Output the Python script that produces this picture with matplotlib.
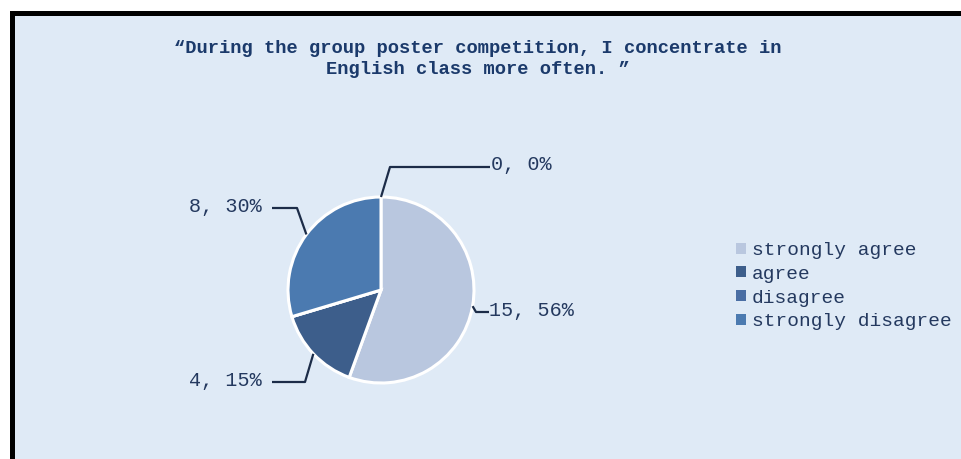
import numpy as np
import matplotlib
matplotlib.use("Agg")
import matplotlib.pyplot as plt
from matplotlib.patches import Rectangle, Patch

categories = ["strongly agree", "agree", "disagree", "strongly disagree"]
counts = [15, 4, 0, 8]
percents = [56, 15, 0, 30]
colors = ["#b9c7df", "#3d5e8b", "#4a6ea4", "#4b7ab0"]
title = "\u201cDuring the group poster competition, I concentrate in\nEnglish class more often. \u201d"

W, H = 962, 459
BG = "#dfeaf6"
TXT = "#24395f"
LINE = "#1c2c48"


def py(y):
    # pixel row (from top) -> axes y (from bottom)
    return H - y


fig = plt.figure(figsize=(W / 100, H / 100), dpi=100, facecolor="white")
ax = fig.add_axes([0, 0, 1, 1])

# background panel with black top / left border
ax.add_patch(Rectangle((10, -5), W, py(11) + 5, facecolor="black", lw=0, zorder=0))
ax.add_patch(Rectangle((15, -5), W, py(16) + 5, facecolor=BG, lw=0, zorder=0))

cx, cy, r = 381, py(290), 93
wedges, _ = ax.pie(counts, colors=colors, startangle=90, counterclock=False,
                   center=(cx, cy), radius=r,
                   wedgeprops=dict(edgecolor="white", linewidth=2.2))

# label layout: (elbow x, label row, line end x, text x, ha)
layout = {
    "strongly agree": (476, 312, 489, 489, "left"),
    "agree": (305, 382, 272, 262, "right"),
    "disagree": (390, 167, 490, 491, "left"),
    "strongly disagree": (297, 208, 272, 262, "right"),
}

for w, cat, n, p in zip(wedges, categories, counts, percents):
    if n == 0:
        a = 90.0
    else:
        a = (w.theta1 + w.theta2) / 2
    ax0 = cx + r * np.cos(np.radians(a))
    ay0 = cy + r * np.sin(np.radians(a))
    ex, ly, lx, tx, ha = layout[cat]
    ax.plot([ax0, ex, lx], [ay0, py(ly), py(ly)], color=LINE, lw=1.6,
            solid_capstyle="butt", zorder=5)
    ax.text(tx, py(ly) + 2, f"{n}, {p}%", ha=ha, va="center",
            fontsize=14.5, family="Liberation Mono", color=TXT)

ax.text(478, py(59), title, ha="center", va="center", multialignment="center",
        fontsize=13.5, family="Liberation Mono", weight="bold",
        color="#1b3a6b", linespacing=1.3)

handles = [Patch(facecolor=c, edgecolor="none") for c in colors]
leg = ax.legend(handles, categories, loc="upper left",
                bbox_to_anchor=(736 / W, 1 - 242 / H), frameon=False,
                prop=dict(family="Liberation Mono", size=14),
                handlelength=0.5, handleheight=0.5, handletextpad=0.3,
                labelspacing=0.35, borderpad=0, borderaxespad=0)
for t in leg.get_texts():
    t.set_color(TXT)

ax.set_xlim(0, W)
ax.set_ylim(0, H)
ax.set_aspect("auto")
ax.axis("off")

fig.savefig("out.png", dpi=100, facecolor="white")
